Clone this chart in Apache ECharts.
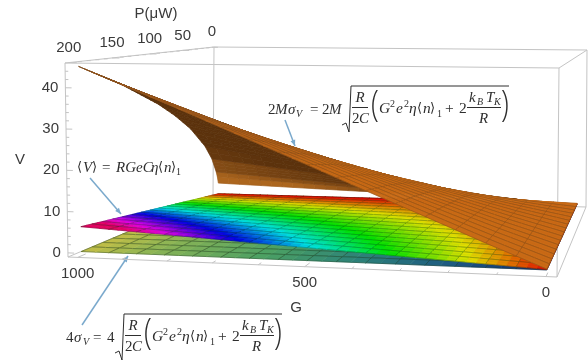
<!DOCTYPE html>
<html>
<head>
<meta charset="utf-8">
<style>
  html, body { margin: 0; padding: 0; background: #fff; }
  #chart { width: 588px; height: 360px; }
</style>
<script src="https://cdn.jsdelivr.net/npm/echarts@6/dist/echarts.min.js"></script>
</head>
<body>
<div id="chart"></div>
<script>
// === Data ===
const gTicks = [0, 500, 1000];
const pTicks = [0, 50, 100, 150, 200];
const vTicks = [0, 10, 20, 30, 40];

// surface tables: one row per P knot, one column per G knot
const orangeG = [0, 125, 250, 375, 500, 625, 750, 875, 1000];
const orangeP = [0, 3, 12.5, 25, 50, 75, 100, 150, 200];
const orangeV = [
  [0.3, 0.7, 1.1, 1.5, 1.9, 2.2, 2.6, 3.0, 3.4],
  [0.3, 1.0, 1.75, 2.5, 3.3, 4.1, 4.9, 5.7, 6.5],
  [0.3, 1.6, 3.0, 4.5, 5.9, 7.4, 8.8, 10.3, 11.75],
  [0.3, 2.1, 4.1, 6.15, 8.2, 10.2, 12.2, 14.3, 16.3],
  [0.3, 2.9, 5.7, 8.6, 11.4, 14.2, 17.1, 19.9, 22.8],
  [0.3, 3.5, 7.0, 10.4, 13.9, 17.4, 20.8, 24.3, 27.75],
  [0.3, 4.0, 8.0, 12.0, 16.0, 20.0, 24.0, 28.0, 32.0],
  [0.3, 4.9, 9.8, 14.7, 19.6, 24.5, 29.3, 34.2, 39.1],
  [0.3, 5.7, 11.3, 16.9, 22.6, 28.2, 33.9, 39.5, 45.1]
];
const sheetG = [0, 500, 1000];
const sheetP = [0, 100, 200];
const rainbowV = [
  [0.2, 0.1, 0.05],
  [0.2, 1.6, 3.05],
  [0.2, 3.1, 6.1]
];
const greenV = [
  [0.1, 0.05, 0.05],
  [0.1, 0.05, 0.05],
  [0.1, 0.05, 0.05]
];

// === Camera: where the box corners land on the page ===
const gRange = [-22, 1022];
const pRange = [-4, 204];
const vRange = [-1, 46];
const corners = {
  flb: [68, 257], frb: [557, 277], blb: [213, 196], brb: [586, 207],
  flt: [65, 63], frt: [559, 68], blt: [214, 47], brt: [587, 50]
};
const depthWarp = 0.76;
const widthWarp = 1.066;

function warp(t, r) { return t / (t + (1 - t) * r); }
function mix2(a, b, t) { return [a[0] + (b[0] - a[0]) * t, a[1] + (b[1] - a[1]) * t]; }

function project(G, P, V) {
  const u = warp((gRange[1] - G) / (gRange[1] - gRange[0]), widthWarp);
  const w = warp((pRange[1] - P) / (pRange[1] - pRange[0]), depthWarp);
  const h = (V - vRange[0]) / (vRange[1] - vRange[0]);
  const bottom = mix2(mix2(corners.flb, corners.frb, u), mix2(corners.blb, corners.brb, u), w);
  const top = mix2(mix2(corners.flt, corners.frt, u), mix2(corners.blt, corners.brt, u), w);
  return mix2(bottom, top, h);
}

// piecewise lookup in a surface table
function knotSpan(knots, x) {
  let i = 0;
  while (i < knots.length - 2 && x > knots[i + 1]) i++;
  return [i, (x - knots[i]) / (knots[i + 1] - knots[i])];
}
function lookup(table, gs, ps, G, P) {
  const [i, a] = knotSpan(gs, G);
  const [j, b] = knotSpan(ps, P);
  const lo = table[j][i] + (table[j][i + 1] - table[j][i]) * a;
  const hi = table[j + 1][i] + (table[j + 1][i + 1] - table[j + 1][i]) * a;
  return lo + (hi - lo) * b;
}

// === Colours ===
function hsv(h, s, v) {
  const i = Math.floor(h * 6), f = h * 6 - i;
  const p = v * (1 - s), q = v * (1 - f * s), t = v * (1 - (1 - f) * s);
  const rgb = [[v, t, p], [q, v, p], [p, v, t], [p, q, v], [t, p, v], [v, p, q]][i % 6];
  return 'rgb(' + rgb.map(c => Math.round(c * 255)).join(',') + ')';
}
function mixRgb(a, b, t) {
  t = Math.max(0, Math.min(1, t));
  return 'rgb(' + a.map((c, k) => Math.round(c + (b[k] - c) * t)).join(',') + ')';
}
function rainbowColor(V) {
  const t = Math.max(0, (V - 0.15) / 5.95);
  return hsv(Math.min(1.03 * t, 0.93), 1, 0.88);
}
const greenStops = [
  [0, [15, 40, 110]], [200, [30, 90, 130]], [400, [45, 130, 120]],
  [600, [75, 160, 100]], [850, [140, 180, 85]], [1000, [195, 190, 70]]
];
function greenColor(G) {
  let i = 0;
  while (i < greenStops.length - 2 && G > greenStops[i + 1][0]) i++;
  return mixRgb(greenStops[i][1], greenStops[i + 1][1], (G - greenStops[i][0]) / (greenStops[i + 1][0] - greenStops[i][0]));
}
function orangeColor(G, dVdP, isTop) {
  if (isTop) return mixRgb([200, 106, 22], [150, 86, 32], (G - 450) / 550);
  return mixRgb([92, 50, 12], [172, 102, 30], (dVdP - 0.3) / 0.5);
}

// === Surface cells, back (P=0) to front (P=200) ===
const meshStepG = 62.5;
const meshStepP = 12.5;

function buildCells(subG, subP, firstSubP) {
  const cells = [];
  const ps = [];
  for (let j = 0; j < 16; j++) {
    const n = j === 0 ? firstSubP : subP;
    for (let k = 0; k < n; k++) ps.push(j * meshStepP + k * meshStepP / n);
  }
  ps.push(200);
  for (let j = 0; j + 1 < ps.length; j++) {
    for (let i = 0; i < 16 * subG; i++) {
      cells.push({ g0: i * meshStepG / subG, g1: (i + 1) * meshStepG / subG, p0: ps[j], p1: ps[j + 1] });
    }
  }
  return cells;
}
function onMesh(x, step) {
  const r = x / step;
  return Math.abs(r - Math.round(r)) < 1e-6;
}

function surfaceSeries(table, gs, ps, cells, colorFn, meshColor, underMesh, meshWidth) {
  return {
    type: 'custom',
    coordinateSystem: 'cartesian2d',
    silent: true,
    animation: false,
    progressive: 0,
    clip: false,
    data: cells.map((c, i) => [i]),
    renderItem: (params, api) => {
      const c = cells[params.dataIndex];
      const v = [
        lookup(table, gs, ps, c.g0, c.p0), lookup(table, gs, ps, c.g1, c.p0),
        lookup(table, gs, ps, c.g1, c.p1), lookup(table, gs, ps, c.g0, c.p1)
      ];
      const pts = [
        api.coord(project(c.g0, c.p0, v[0])), api.coord(project(c.g1, c.p0, v[1])),
        api.coord(project(c.g1, c.p1, v[2])), api.coord(project(c.g0, c.p1, v[3]))
      ];
      let area = 0;
      pts.forEach((a, i) => {
        const b = pts[(i + 1) % 4];
        area += a[0] * b[1] - b[0] * a[1];
      });
      const isTop = area < 0;
      const fill = colorFn(c, v, isTop);
      const children = [{
        type: 'polygon',
        shape: { points: pts },
        style: { fill: fill, stroke: fill, lineWidth: 0.7 }
      }];
      const edge = (a, b) => children.push({
        type: 'line',
        shape: { x1: a[0], y1: a[1], x2: b[0], y2: b[1] },
        style: { stroke: isTop ? meshColor : underMesh, lineWidth: meshWidth, fill: null }
      });
      if (onMesh(c.g0, meshStepG)) edge(pts[0], pts[3]);
      if (onMesh(c.g1, meshStepG)) edge(pts[1], pts[2]);
      if (onMesh(c.p0, meshStepP)) edge(pts[0], pts[1]);
      if (onMesh(c.p1, meshStepP)) edge(pts[3], pts[2]);
      return { type: 'group', children: children };
    }
  };
}

// === Box, ticks and tick labels ===
const [g0, g1] = gRange, [p0, p1] = pRange, [v0, v1] = vRange;
const boxEdges = [
  [[g1, p1, v0], [g0, p1, v0]], [[g1, p1, v1], [g0, p1, v1]],
  [[g1, p0, v1], [g0, p0, v1]], [[g1, p1, v0], [g1, p1, v1]],
  [[g0, p1, v0], [g0, p1, v1]], [[g1, p0, v0], [g1, p0, v1]],
  [[g0, p0, v0], [g0, p0, v1]], [[g1, p1, v1], [g1, p0, v1]],
  [[g0, p1, v1], [g0, p0, v1]], [[g1, p1, v0], [g1, p0, v0]],
  [[g0, p1, v0], [g0, p0, v0]], [[g1, p0, v0], [g0, p0, v0]]
];
for (let G = 0; G <= 1000; G += 100) {
  const len = G % 500 === 0 ? 9 : 5;
  boxEdges.push([[G, p1, v0], [G, p1 - len, v0]]);
}
for (let P = 0; P <= 200; P += 10) {
  const len = P % 50 === 0 ? 18 : 9;
  boxEdges.push([[g1, P, v1], [g1 - len, P, v1]]);
}
for (let V = 0; V <= 44; V += 2) {
  const len = V % 10 === 0 ? 14 : 7;
  boxEdges.push([[g1, p1, V], [g1 - len, p1, V]]);
}

const boxSeries = {
  type: 'custom',
  silent: true,
  animation: false,
  clip: false,
  data: boxEdges.map((e, i) => [i]),
  renderItem: (params, api) => {
    const e = boxEdges[params.dataIndex];
    const a = api.coord(project(...e[0]));
    const b = api.coord(project(...e[1]));
    return {
      type: 'line',
      shape: { x1: a[0], y1: a[1], x2: b[0], y2: b[1] },
      style: { stroke: '#c4c4c4', lineWidth: 1, fill: null }
    };
  }
};

const tickLabels = [];
gTicks.forEach(t => tickLabels.push({ text: String(t), at: [t, p1, v0], dx: 0, dy: 16, align: 'center' }));
pTicks.forEach(t => tickLabels.push({ text: String(t), at: [g1, t, v1], dx: 0, dy: -15, align: 'center' }));
vTicks.forEach(t => tickLabels.push({ text: String(t), at: [g1, p1, t], dx: -7, dy: 0, align: 'right' }));

const labelSeries = {
  type: 'custom',
  silent: true,
  animation: false,
  clip: false,
  data: tickLabels.map((l, i) => [i]),
  renderItem: (params, api) => {
    const l = tickLabels[params.dataIndex];
    const p = api.coord(project(...l.at));
    return {
      type: 'text',
      style: {
        x: p[0] + l.dx, y: p[1] + l.dy, text: l.text,
        font: '15px "Liberation Sans"', fill: '#3a3a3a',
        align: l.align, verticalAlign: 'middle'
      }
    };
  }
};

// === Formulas, written as real text ===
const serif = '"Liberation Serif", "DejaVu Serif"';
const ink = '#2e2e2e';
const pointerBlue = '#7aa9cc';

function txt(text, x, y, size, italic) {
  return {
    type: 'text', x: x, y: y, silent: true,
    style: {
      text: text, fill: ink, verticalAlign: 'middle',
      font: (italic ? 'italic ' : '') + size + 'px ' + serif
    }
  };
}
function stroke(points, color, width) {
  return {
    type: 'polyline', silent: true,
    shape: { points: points },
    style: { stroke: color || ink, lineWidth: width || 1, fill: null }
  };
}
function paren(text, x, y) {
  return {
    type: 'text', x: x, y: y, scaleX: 0.8, silent: true,
    style: { text: text, fill: ink, align: 'center', verticalAlign: 'middle', font: '300 36px "Open Sans"' }
  };
}
function pointer(from, to) {
  const dx = to[0] - from[0], dy = to[1] - from[1];
  const len = Math.sqrt(dx * dx + dy * dy);
  const ux = dx / len, uy = dy / len;
  return [
    stroke([from, to], pointerBlue, 1.5),
    {
      type: 'polygon', silent: true,
      shape: { points: [to, [to[0] - 6 * ux - 2.5 * uy, to[1] - 6 * uy + 2.5 * ux], [to[0] - 6 * ux + 2.5 * uy, to[1] - 6 * uy - 2.5 * ux]] },
      style: { fill: pointerBlue }
    }
  ];
}
// the root expression, both formulas use it; (x, y) is the top left of the root sign's bar
function rootExpression(x, y) {
  return [
    stroke([[x, y + 39], [x + 4, y + 37], [x + 7, y + 46], [x + 9, y], [x + 167, y]]),
    txt('R', x + 13.5, y + 12, 15, true),
    stroke([[x + 10, y + 21.5], [x + 26, y + 21.5]]),
    txt('2', x + 10, y + 33, 15), txt('C', x + 17, y + 33, 15, true),
    paren('(', x + 33, y + 20),
    txt('G', x + 37, y + 23, 15.5, true), txt('2', x + 48, y + 18, 10),
    txt('e', x + 54, y + 23, 15.5, true), txt('2', x + 62, y + 18, 10),
    txt('η', x + 67, y + 23, 15.5, true), txt('⟨', x + 75, y + 23, 13),
    txt('n', x + 81, y + 23, 15.5, true), txt('⟩', x + 88, y + 23, 13),
    txt('1', x + 95, y + 28, 10), txt('+', x + 103, y + 23, 15.5), txt('2', x + 117, y + 23, 15.5),
    txt('k', x + 127, y + 12, 15, true), txt('B', x + 135, y + 16, 10, true),
    txt('T', x + 144, y + 12, 15, true), txt('K', x + 152, y + 16, 10, true),
    stroke([[x + 125, y + 21.5], [x + 159, y + 21.5]]),
    txt('R', x + 137, y + 33, 15, true),
    paren(')', x + 163, y + 20)
  ];
}

const formulaParts = [
  // 2Mσ_V = 2M sqrt(...)
  txt('2', 268, 110, 15), txt('M', 275, 110, 15, true), txt('σ', 288, 110, 15, true),
  txt('V', 296, 114, 10, true), txt('=', 310, 110, 15), txt('2', 322, 110, 15), txt('M', 329, 110, 15, true),
  ...rootExpression(342, 86),
  // 4σ_V = 4 sqrt(...)
  txt('4', 66, 338, 15), txt('σ', 74, 338, 15, true), txt('V', 83, 342, 10, true),
  txt('=', 93, 338, 15), txt('4', 107, 338, 15),
  ...rootExpression(115, 314),
  // <V> = RGeCη<n>_1
  txt('⟨', 77, 168, 13), txt('V', 83, 168, 15, true), txt('⟩', 92, 168, 13), txt('=', 102, 168, 15),
  txt('RGeC', 116, 168, 15, true), txt('η', 151, 168, 15, true),
  txt('⟨', 158, 168, 13), txt('n', 164, 168, 15, true), txt('⟩', 171, 168, 13),
  txt('1', 176, 172, 10),
  // pointers
  ...pointer([90, 178], [121, 214]),
  ...pointer([82, 325], [128, 256]),
  ...pointer([285, 120], [295, 146]),
  // axis titles
  { type: 'text', x: 156, y: 14, silent: true, style: { text: 'P(μW)', fill: '#3a3a3a', align: 'center', verticalAlign: 'middle', font: '15px "Liberation Sans"' } },
  { type: 'text', x: 20, y: 160, silent: true, style: { text: 'V', fill: '#3a3a3a', align: 'center', verticalAlign: 'middle', font: '15px "Liberation Sans"' } },
  { type: 'text', x: 296, y: 308, silent: true, style: { text: 'G', fill: '#3a3a3a', align: 'center', verticalAlign: 'middle', font: '15px "Liberation Sans"' } }
];

// === Chart ===
const green = surfaceSeries(greenV, sheetG, sheetP, buildCells(2, 1, 1),
  c => greenColor((c.g0 + c.g1) / 2), 'rgba(20,50,20,0.55)', 'rgba(20,50,20,0.55)', 0.7);
const rainbow = surfaceSeries(rainbowV, sheetG, sheetP, buildCells(3, 2, 2),
  (c, v) => rainbowColor((v[0] + v[1] + v[2] + v[3]) / 4), 'rgba(0,50,20,0.45)', 'rgba(0,50,20,0.45)', 0.6);
const orange = surfaceSeries(orangeV, orangeG, orangeP, buildCells(2, 2, 6),
  (c, v, isTop) => orangeColor((c.g0 + c.g1) / 2, Math.abs((v[2] + v[3] - v[0] - v[1]) / 2 / (c.p1 - c.p0)), isTop),
  'rgba(95,60,25,0.55)', 'rgba(60,35,10,0.1)', 0.6);

const myChart = echarts.init(document.getElementById('chart'));
myChart.setOption({
  animation: false,
  backgroundColor: '#fff',
  grid: { left: 0, right: 0, top: 0, bottom: 0 },
  xAxis: { type: 'value', min: 0, max: 588, show: false },
  yAxis: { type: 'value', min: 0, max: 360, inverse: true, show: false },
  graphic: { elements: formulaParts },
  series: [boxSeries, green, rainbow, orange, labelSeries]
});
</script>
</body>
</html>
